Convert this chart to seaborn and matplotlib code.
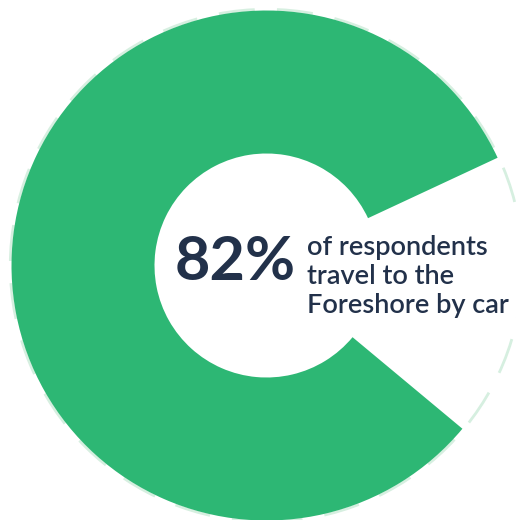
import matplotlib
matplotlib.use("Agg")
import matplotlib.pyplot as plt
import seaborn as sns
from matplotlib.patches import Circle

# data
categories = ["By car", "Other"]
shares = [82, 18]
headline = "82%"
caption_lines = ["of respondents", "travel to the", "Foreshore by car"]

GREEN = "#2DB774"
RING = "#D6EFE0"
NAVY = "#22314A"

sns.set_theme(style="white")
plt.rcParams["font.family"] = ["Lato", "DejaVu Sans"]

fig = plt.figure(figsize=(5.16, 5.20), dpi=100)
ax = fig.add_axes([0, 0, 1, 1])
ax.set_xlim(0, 516)
ax.set_ylim(0, 520)
ax.set_aspect("equal")
ax.axis("off")

cx, cy, R = 266.5, 254.5, 255
hole = 112

ring = Circle((cx, cy), R + 1.2, fill=False, edgecolor=RING, linewidth=2.0,
              linestyle=(0, (13, 8)), zorder=1)
ax.add_patch(ring)

wedges, _ = ax.pie(shares, colors=[GREEN, "none"], startangle=25,
                   counterclock=True, radius=R, center=(cx, cy),
                   wedgeprops=dict(width=R - hole, linewidth=0))
for w in wedges:
    w.set_zorder(2)
ax.set_xlim(0, 516)
ax.set_ylim(0, 520)

ax.text(296, 240, headline, ha="right", va="baseline", fontsize=44,
        fontweight="bold", color=NAVY, zorder=3)
for i, line in enumerate(caption_lines):
    ax.text(307, 265 - i * 29, line, ha="left", va="baseline", fontsize=19.5,
            fontweight="semibold", color=NAVY, zorder=3)

fig.savefig("out.png", dpi=100)
